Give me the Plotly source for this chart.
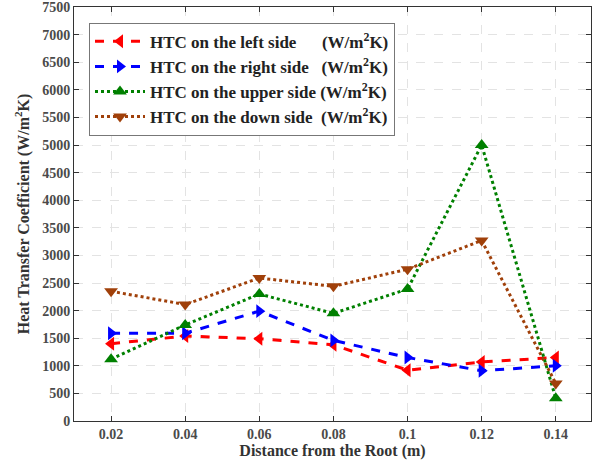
import plotly.graph_objects as go

x = [0.02, 0.04, 0.06, 0.08, 0.10, 0.12, 0.14]
x_labels = ["0.02", "0.04", "0.06", "0.08", "0.1", "0.12", "0.14"]
y_ticks = [0, 500, 1000, 1500, 2000, 2500, 3000, 3500, 4000, 4500, 5000, 5500, 6000, 6500, 7000, 7500]
htc_left = [1400, 1540, 1490, 1380, 920, 1070, 1150]
htc_right = [1590, 1590, 1990, 1460, 1150, 910, 1000]
htc_upper = [1120, 1740, 2300, 1950, 2390, 5000, 410]
htc_down = [2350, 2110, 2590, 2440, 2750, 3270, 680]

NB = "\u00a0"
unit = "(W/m<sup>2</sup>K)"
names = [
    "HTC on the left side" + NB * 6 + unit,
    "HTC on the right side" + NB * 3 + unit,
    "HTC on the upper side " + unit,
    "HTC on the down side" + NB * 2 + unit,
]
series = [htc_left, htc_right, htc_upper, htc_down]
colors = ["#ff0000", "#0000ff", "#008000", "#a0400a"]
dashes = ["dash", "dash", "dot", "dot"]
symbols = ["triangle-left", "triangle-right", "triangle-up", "triangle-down"]

fig = go.Figure()
for n, y, c, d, s in zip(names, series, colors, dashes, symbols):
    fig.add_trace(go.Scatter(
        x=x, y=y, name=n, mode="lines+markers",
        line=dict(color=c, dash=d, width=3),
        marker=dict(symbol=s, size=12, color=c),
    ))

font = "Liberation Serif"
axcol = "#333333"
tickfont = dict(family=font, size=14, color="#4a4a4a", weight="bold")
fig.update_layout(
    width=592, height=468,
    margin=dict(l=74, r=1, t=7, b=47),
    paper_bgcolor="white", plot_bgcolor="white",
    font=dict(family=font, size=14, color=axcol),
    showlegend=True,
    legend=dict(
        x=0.029, y=0.962, xanchor="left", yanchor="top",
        bgcolor="white", bordercolor="#777777", borderwidth=1,
        font=dict(family=font, size=17, color="#222222", weight="bold"),
        tracegroupgap=0, itemwidth=50,
    ),
)
fig.update_xaxes(
    range=[0.01, 0.1495], tickmode="array", tickvals=x, ticktext=x_labels,
    showline=True, linecolor=axcol, linewidth=1, mirror="ticks",
    ticks="inside", ticklen=5, tickcolor=axcol,
    showgrid=True, gridcolor="#e3e3e3", griddash="dash", gridwidth=1,
    zeroline=False, ticklabeloverflow="allow",
    tickfont=tickfont,
    title=dict(text="Distance from the Root (m)", standoff=4,
               font=dict(family=font, size=16, color="#333333", weight="bold")),
)
fig.update_yaxes(
    range=[0, 7500], tickmode="array", tickvals=y_ticks,
    ticktext=[str(v) for v in y_ticks],
    showline=True, linecolor=axcol, linewidth=1, mirror="ticks",
    ticks="inside", ticklen=5, tickcolor=axcol,
    showgrid=True, gridcolor="#e3e3e3", griddash="dash", gridwidth=1,
    zeroline=False, ticklabeloverflow="allow",
    tickfont=tickfont,
    title=dict(text="Heat Transfer Coefficient (W/m<sup>2</sup>K)", standoff=8,
               font=dict(family=font, size=16, color="#333333", weight="bold")),
)

fig.write_html("out.html")
